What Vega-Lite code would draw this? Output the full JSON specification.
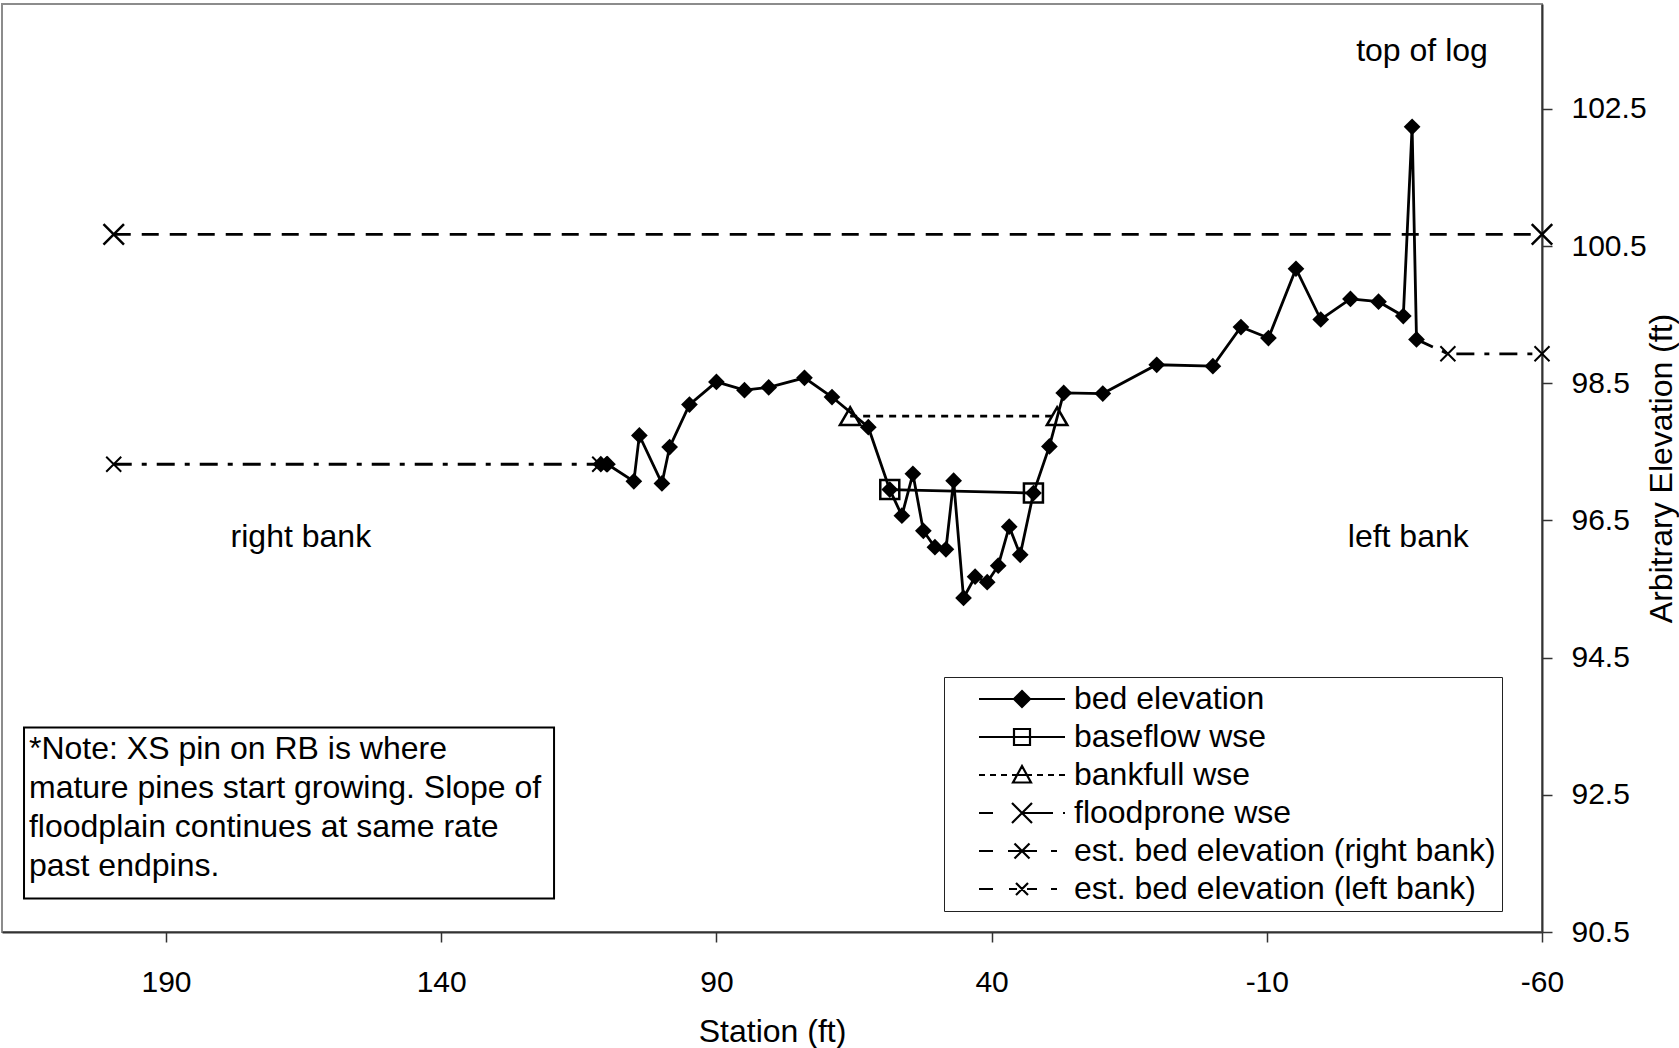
{
  "$schema": "https://vega.github.io/schema/vega-lite/v6.json",
  "width": 1540,
  "height": 928,
  "autosize": {"type": "none"},
  "padding": {"left": 2, "top": 4, "right": 137, "bottom": 116},
  "background": "white",
  "config": {
    "font": "Liberation Sans",
    "view": {"stroke": "#8c8c8c", "strokeWidth": 2},
    "axis": {
      "grid": false,
      "domainColor": "#333333",
      "domainWidth": 2,
      "tickColor": "#333333",
      "tickWidth": 1.5,
      "tickSize": 10,
      "labelFont": "Liberation Sans",
      "labelFontSize": 30,
      "labelColor": "black",
      "labelFlush": false,
      "labelOverlap": false,
      "titleFont": "Liberation Sans",
      "titleFontSize": 32,
      "titleFontWeight": "normal",
      "titleColor": "black"
    }
  },
  "datasets": {
    "series": [
      {"series": "bed elevation", "station": 111.0, "elevation": 97.32},
      {"series": "bed elevation", "station": 109.8, "elevation": 97.32},
      {"series": "bed elevation", "station": 105.0, "elevation": 97.07},
      {"series": "bed elevation", "station": 104.0, "elevation": 97.74},
      {"series": "bed elevation", "station": 99.9, "elevation": 97.04},
      {"series": "bed elevation", "station": 98.5, "elevation": 97.57},
      {"series": "bed elevation", "station": 94.9, "elevation": 98.19},
      {"series": "bed elevation", "station": 90.0, "elevation": 98.52},
      {"series": "bed elevation", "station": 84.9, "elevation": 98.40},
      {"series": "bed elevation", "station": 80.5, "elevation": 98.44},
      {"series": "bed elevation", "station": 74.0, "elevation": 98.58},
      {"series": "bed elevation", "station": 69.0, "elevation": 98.30},
      {"series": "bed elevation", "station": 62.4, "elevation": 97.86},
      {"series": "bed elevation", "station": 58.5, "elevation": 96.95},
      {"series": "bed elevation", "station": 56.3, "elevation": 96.57},
      {"series": "bed elevation", "station": 54.3, "elevation": 97.18},
      {"series": "bed elevation", "station": 52.4, "elevation": 96.35},
      {"series": "bed elevation", "station": 50.3, "elevation": 96.11},
      {"series": "bed elevation", "station": 48.3, "elevation": 96.08},
      {"series": "bed elevation", "station": 46.9, "elevation": 97.08},
      {"series": "bed elevation", "station": 45.1, "elevation": 95.37},
      {"series": "bed elevation", "station": 43.0, "elevation": 95.68},
      {"series": "bed elevation", "station": 40.8, "elevation": 95.60},
      {"series": "bed elevation", "station": 38.8, "elevation": 95.84},
      {"series": "bed elevation", "station": 36.8, "elevation": 96.41},
      {"series": "bed elevation", "station": 34.8, "elevation": 96.00},
      {"series": "bed elevation", "station": 32.4, "elevation": 96.90},
      {"series": "bed elevation", "station": 29.5, "elevation": 97.58},
      {"series": "bed elevation", "station": 26.9, "elevation": 98.36},
      {"series": "bed elevation", "station": 19.8, "elevation": 98.35},
      {"series": "bed elevation", "station": 10.0, "elevation": 98.77},
      {"series": "bed elevation", "station": -0.2, "elevation": 98.75},
      {"series": "bed elevation", "station": -5.3, "elevation": 99.32},
      {"series": "bed elevation", "station": -10.3, "elevation": 99.16},
      {"series": "bed elevation", "station": -15.3, "elevation": 100.17},
      {"series": "bed elevation", "station": -19.8, "elevation": 99.43},
      {"series": "bed elevation", "station": -25.2, "elevation": 99.73},
      {"series": "bed elevation", "station": -30.3, "elevation": 99.69},
      {"series": "bed elevation", "station": -34.8, "elevation": 99.48},
      {"series": "bed elevation", "station": -36.4, "elevation": 102.24},
      {"series": "bed elevation", "station": -37.2, "elevation": 99.14},
      {"series": "baseflow wse", "station": 58.5, "elevation": 96.95},
      {"series": "baseflow wse", "station": 32.4, "elevation": 96.90},
      {"series": "bankfull wse", "station": 65.7, "elevation": 98.02},
      {"series": "bankfull wse", "station": 28.1, "elevation": 98.02},
      {"series": "floodprone wse", "station": 199.5, "elevation": 100.67},
      {"series": "floodprone wse", "station": -60.0, "elevation": 100.67},
      {"series": "est. bed elevation (right bank)", "station": 199.5, "elevation": 97.32},
      {"series": "est. bed elevation (right bank)", "station": 111.2, "elevation": 97.32},
      {"series": "est. bed elevation (left bank)", "station": -37.2, "elevation": 99.14},
      {"series": "est. bed elevation (left bank)", "station": -42.9, "elevation": 98.93},
      {"series": "est. bed elevation (left bank)", "station": -60.0, "elevation": 98.93}
    ]
  },
  "layer": [
    {
      "data": {"name": "series"},
      "transform": [{"filter": "datum.series === 'bed elevation' || datum.series === 'baseflow wse'"}],
      "mark": {"type": "line", "color": "black", "strokeWidth": 2.8},
      "encoding": {
        "x": {
          "field": "station",
          "type": "quantitative",
          "title": "Station (ft)",
          "scale": {"domain": [-60, 219.8], "reverse": true, "nice": false, "zero": false},
          "axis": {"values": [190, 140, 90, 40, -10, -60], "labelExpr": "'' + datum.value", "labelPadding": 25, "titlePadding": 19}
        },
        "y": {
          "field": "elevation",
          "type": "quantitative",
          "title": "Arbitrary Elevation (ft)",
          "scale": {"domain": [90.5, 104.03], "nice": false, "zero": false},
          "axis": {
            "orient": "right",
            "values": [90.5, 92.5, 94.5, 96.5, 98.5, 100.5, 102.5],
            "format": ".1f",
            "labelAlign": "left",
            "labelPadding": 19,
            "titleAngle": 270,
            "titleBaseline": "top",
            "titlePadding": 0
          }
        },
        "order": {"field": "station", "sort": "descending"},
        "detail": {"field": "series", "type": "nominal"}
      }
    },
    {
      "data": {"name": "series"},
      "transform": [{"filter": "datum.series === 'bankfull wse'"}],
      "mark": {"type": "line", "color": "black", "strokeWidth": 2.8, "strokeDash": [7, 6]},
      "encoding": {
        "x": {"field": "station", "type": "quantitative", "title": "Station (ft)", "scale": {"domain": [-60, 219.8], "reverse": true, "nice": false, "zero": false}},
        "y": {"field": "elevation", "type": "quantitative", "title": "Arbitrary Elevation (ft)", "scale": {"domain": [90.5, 104.03], "nice": false, "zero": false}},
        "order": {"field": "station", "sort": "descending"}
      }
    },
    {
      "data": {"name": "series"},
      "transform": [{"filter": "datum.series === 'floodprone wse'"}],
      "mark": {"type": "line", "color": "black", "strokeWidth": 2.8, "strokeDash": [17, 11]},
      "encoding": {
        "x": {"field": "station", "type": "quantitative", "title": "Station (ft)", "scale": {"domain": [-60, 219.8], "reverse": true, "nice": false, "zero": false}},
        "y": {"field": "elevation", "type": "quantitative", "title": "Arbitrary Elevation (ft)", "scale": {"domain": [90.5, 104.03], "nice": false, "zero": false}},
        "order": {"field": "station", "sort": "descending"}
      }
    },
    {
      "data": {"name": "series"},
      "transform": [{"filter": "datum.series === 'est. bed elevation (right bank)' || datum.series === 'est. bed elevation (left bank)'"}],
      "mark": {"type": "line", "color": "black", "strokeWidth": 2.8, "strokeDash": [18, 10, 5, 10]},
      "encoding": {
        "x": {"field": "station", "type": "quantitative", "title": "Station (ft)", "scale": {"domain": [-60, 219.8], "reverse": true, "nice": false, "zero": false}},
        "y": {"field": "elevation", "type": "quantitative", "title": "Arbitrary Elevation (ft)", "scale": {"domain": [90.5, 104.03], "nice": false, "zero": false}},
        "order": {"field": "station", "sort": "descending"},
        "detail": {"field": "series", "type": "nominal"}
      }
    },
    {
      "data": {"name": "series"},
      "transform": [{"filter": "false"}],
      "mark": {"type": "point", "filled": false, "color": "black", "strokeWidth": 2.2, "opacity": 1},
      "encoding": {
        "x": {"field": "station", "type": "quantitative", "title": "Station (ft)", "scale": {"domain": [-60, 219.8], "reverse": true, "nice": false, "zero": false}},
        "y": {"field": "elevation", "type": "quantitative", "title": "Arbitrary Elevation (ft)", "scale": {"domain": [90.5, 104.03], "nice": false, "zero": false}},
        "shape": {
          "field": "series",
          "type": "nominal",
          "scale": {
            "domain": ["bed elevation", "baseflow wse", "bankfull wse", "floodprone wse", "est. bed elevation (right bank)", "est. bed elevation (left bank)"],
            "range": [
              "M-4.3,0H4.3M0,-0.8L0.8,0L0,0.8L-0.8,0ZM0,-0.55L0.55,0L0,0.55L-0.55,0ZM0,-0.3L0.3,0L0,0.3L-0.3,0Z",
              "M-4.3,0H4.3M-0.8,-0.8H0.8V0.8H-0.8Z",
              "M-4.3,0H-3.7M-3.2,0H-2.6M-2.1,0H-1.5M-1.0,0H1.0M1.5,0H2.1M2.6,0H3.2M3.7,0H4.3M0,-0.9L0.9,0.75H-0.9Z",
              "M-4.3,0H-2.9M0,0H3.1M4.1,0H4.3M-1,-1L1,1M-1,1L1,-1",
              "M-4.3,0H-2.9M-1.4,0H1.5M2.9,0H3.5M-0.75,-0.75L0.75,0.75M-0.75,0.75L0.75,-0.75",
              "M-4.3,0H-2.9M-1.3,0H-0.5M0.5,0H1.5M2.9,0H3.5M-0.6,-0.6L0.6,0.6M-0.6,0.6L0.6,-0.6"
            ]
          },
          "legend": {
            "orient": "none",
            "legendX": 942,
            "legendY": 673,
            "direction": "vertical",
            "title": null,
            "fillColor": "white",
            "strokeColor": "#222222",
            "padding": 6,
            "symbolSize": 400,
            "symbolStrokeWidth": 2.2,
            "symbolStrokeColor": "black",
            "symbolFillColor": "white",
            "symbolOpacity": 1,
            "symbolOffset": 56,
            "labelOffset": 36,
            "labelFont": "Liberation Sans",
            "labelFontSize": 32,
            "labelColor": "black",
            "labelLimit": 1000,
            "labelExpr": "datum.label + '\u00a0\u00a0\u00a0'",
            "rowPadding": 6
          }
        }
      }
    },
    {
      "data": {"name": "series"},
      "transform": [{"filter": "datum.series === 'floodprone wse'"}],
      "mark": {"type": "point", "shape": "M-1,-1L1,1M-1,1L1,-1", "size": 420, "filled": false, "color": "black", "strokeWidth": 2.5, "opacity": 1},
      "encoding": {
        "x": {"field": "station", "type": "quantitative", "title": "Station (ft)", "scale": {"domain": [-60, 219.8], "reverse": true, "nice": false, "zero": false}},
        "y": {"field": "elevation", "type": "quantitative", "title": "Arbitrary Elevation (ft)", "scale": {"domain": [90.5, 104.03], "nice": false, "zero": false}}
      }
    },
    {
      "data": {"name": "series"},
      "transform": [{"filter": "(datum.series === 'est. bed elevation (right bank)') || (datum.series === 'est. bed elevation (left bank)' && datum.station < -40)"}],
      "mark": {"type": "point", "shape": "M-1,-1L1,1M-1,1L1,-1", "size": 225, "filled": false, "color": "black", "strokeWidth": 2, "opacity": 1},
      "encoding": {
        "x": {"field": "station", "type": "quantitative", "title": "Station (ft)", "scale": {"domain": [-60, 219.8], "reverse": true, "nice": false, "zero": false}},
        "y": {"field": "elevation", "type": "quantitative", "title": "Arbitrary Elevation (ft)", "scale": {"domain": [90.5, 104.03], "nice": false, "zero": false}}
      }
    },
    {
      "data": {"name": "series"},
      "transform": [{"filter": "datum.series === 'bed elevation'"}],
      "mark": {"type": "point", "shape": "diamond", "size": 280, "filled": true, "color": "black", "opacity": 1},
      "encoding": {
        "x": {"field": "station", "type": "quantitative", "title": "Station (ft)", "scale": {"domain": [-60, 219.8], "reverse": true, "nice": false, "zero": false}},
        "y": {"field": "elevation", "type": "quantitative", "title": "Arbitrary Elevation (ft)", "scale": {"domain": [90.5, 104.03], "nice": false, "zero": false}}
      }
    },
    {
      "data": {"name": "series"},
      "transform": [{"filter": "datum.series === 'baseflow wse'"}],
      "mark": {"type": "point", "shape": "square", "size": 361, "filled": false, "color": "black", "strokeWidth": 2.5, "opacity": 1},
      "encoding": {
        "x": {"field": "station", "type": "quantitative", "title": "Station (ft)", "scale": {"domain": [-60, 219.8], "reverse": true, "nice": false, "zero": false}},
        "y": {"field": "elevation", "type": "quantitative", "title": "Arbitrary Elevation (ft)", "scale": {"domain": [90.5, 104.03], "nice": false, "zero": false}}
      }
    },
    {
      "data": {"name": "series"},
      "transform": [{"filter": "datum.series === 'bankfull wse'"}],
      "mark": {"type": "point", "shape": "triangle-up", "size": 420, "filled": false, "color": "black", "strokeWidth": 2.5, "opacity": 1},
      "encoding": {
        "x": {"field": "station", "type": "quantitative", "title": "Station (ft)", "scale": {"domain": [-60, 219.8], "reverse": true, "nice": false, "zero": false}},
        "y": {"field": "elevation", "type": "quantitative", "title": "Arbitrary Elevation (ft)", "scale": {"domain": [90.5, 104.03], "nice": false, "zero": false}}
      }
    },
    {
      "data": {"values": [{}]},
      "mark": {"type": "rect", "fill": "white", "stroke": "black", "strokeWidth": 2},
      "encoding": {
        "x": {"datum": 215.8, "type": "quantitative"},
        "x2": {"datum": 119.5},
        "y": {"datum": 93.48, "type": "quantitative"},
        "y2": {"datum": 90.99}
      }
    },
    {
      "data": {"values": [{}]},
      "mark": {
        "type": "text",
        "text": ["*Note: XS pin on RB is where", "mature pines start growing. Slope of", "floodplain continues at same rate", "past endpins."],
        "align": "left",
        "baseline": "top",
        "fontSize": 32,
        "lineHeight": 39,
        "font": "Liberation Sans",
        "color": "black"
      },
      "encoding": {
        "x": {"datum": 214.9, "type": "quantitative"},
        "y": {"datum": 93.38, "type": "quantitative"}
      }
    },
    {
      "data": {"values": [{}]},
      "mark": {"type": "text", "text": "top of log", "align": "center", "baseline": "middle", "fontSize": 32, "font": "Liberation Sans", "color": "black"},
      "encoding": {
        "x": {"datum": -38.2, "type": "quantitative"},
        "y": {"datum": 103.34, "type": "quantitative"}
      }
    },
    {
      "data": {"values": [{}]},
      "mark": {"type": "text", "text": "right bank", "align": "center", "baseline": "middle", "fontSize": 32, "font": "Liberation Sans", "color": "black"},
      "encoding": {
        "x": {"datum": 165.5, "type": "quantitative"},
        "y": {"datum": 96.26, "type": "quantitative"}
      }
    },
    {
      "data": {"values": [{}]},
      "mark": {"type": "text", "text": "left bank", "align": "center", "baseline": "middle", "fontSize": 32, "font": "Liberation Sans", "color": "black"},
      "encoding": {
        "x": {"datum": -35.7, "type": "quantitative"},
        "y": {"datum": 96.26, "type": "quantitative"}
      }
    }
  ]
}
